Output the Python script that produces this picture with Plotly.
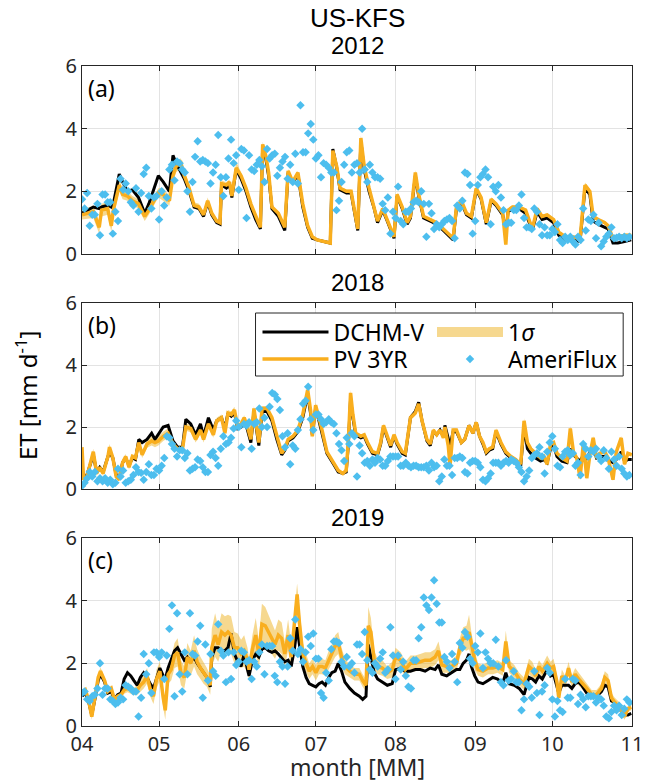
import pandas as pd
import plotly.graph_objects as go

# ---------------- data ----------------
YEARS = [2012, 2018, 2019]
PANEL_LABELS = ["(a)", "(b)", "(c)"]
SITE = "US-KFS"

# Panel (a) 2012 : model lines, key points (days since Apr 1)
A_day = [0, 4.4, 6.7, 7.6, 10, 11.4, 12.2, 14.5, 15.8, 17.7,
         19.6, 22, 24.4, 26, 29.7, 31.6, 34, 35.4, 36.6, 38.5,
         39.8, 41.7, 43.6, 45.5, 47.3, 48.9, 50.5, 52.4, 53.7, 54.3,
         56.2, 57.4, 58.3, 60, 61.9, 63.8, 65.7, 67.6, 69.4, 70.3,
         71.6, 72.6, 73.9, 76.4, 78.9, 80.2, 82, 84, 85.9, 87.8,
         89.6, 91.5, 94, 96.6, 97.6, 99.1, 100.4, 102.9, 104.7, 106,
         107.3, 108.5, 109.8, 111.7, 113.7, 115, 117, 118.8, 121.4, 122.6,
         124.6, 126.5, 127.8, 129.7, 131, 132.9, 135.5, 138, 140.6, 144.4,
         145.7, 147.6, 149.6, 151.5, 153.4, 155.3, 157.3, 159.2, 161.1, 163.7,
         164.9, 165.8, 167.5, 170, 172.6, 175.2, 177.1, 179, 181, 183.5,
         185.5, 188, 190.6, 193.8, 195.7, 197.6, 198.9, 200.8, 203.4, 204.7,
         206.6, 208.5, 211.1, 213.7]
A_pv = [1.25, 1.35, 0.85, 1.4, 1.45, 0.9, 1.4, 2.2, 1.9, 1.85,
        1.7, 1.6, 1.2, 1.4, 1.95, 1.9, 1.7, 2.5, 2.8, 2.9,
        2.5, 2.1, 1.55, 1.5, 1.25, 1.7, 1.3, 1.05, 1.0, 2.25,
        2.2, 2.3, 1.85, 2.75, 2.5, 2.1, 1.6, 1.2, 0.85, 3.5,
        3.1, 2.6, 1.5, 1.3, 0.85, 2.65, 2.3, 2.6, 1.6, 0.9,
        0.55, 0.45, 0.4, 0.35, 3.3, 2.8, 2.1, 2.0, 2.0, 1.4,
        0.8, 3.7, 2.8, 2.1, 1.5, 1.05, 1.45, 1.1, 0.55, 1.9,
        1.5, 1.0, 1.2, 2.6, 1.9, 1.2, 1.1, 1.0, 0.8, 0.5,
        1.5, 1.7, 1.3, 1.2, 2.1, 1.8, 1.0, 1.75, 1.6, 1.3,
        0.3, 1.4, 1.5, 1.5, 1.4, 0.8, 1.45, 1.2, 1.25, 1.1,
        0.7, 0.55, 0.55, 0.5, 2.2, 2.0, 1.2, 1.1, 1.0, 0.9,
        0.5, 0.55, 0.6, 0.6]
A_dchm = [1.3, 1.5, 1.45, 1.5, 1.55, 1.5, 1.6, 2.55, 2.3, 2.0,
          2.05, 1.8, 1.3, 1.6, 2.5, 2.3, 2.0, 3.15, 2.9, 2.6,
          2.4, 2.0, 1.5, 1.45, 1.2, 1.65, 1.25, 1.0, 0.95, 2.2,
          2.1, 2.2, 1.8, 2.7, 2.4, 2.0, 1.5, 1.1, 0.8, 3.45,
          3.0, 2.5, 1.45, 1.2, 0.75, 2.6, 2.25, 2.55, 1.5, 0.85,
          0.5, 0.45, 0.4, 0.35, 3.35, 2.75, 2.05, 1.95, 1.95, 1.35,
          0.75, 3.6, 2.7, 2.0, 1.45, 1.0, 1.4, 1.05, 0.5, 1.85,
          1.45, 0.95, 1.15, 2.5, 1.85, 1.15, 1.05, 0.95, 0.75, 0.45,
          1.45, 1.65, 1.25, 1.15, 2.05, 1.75, 0.95, 1.7, 1.55, 1.25,
          0.7, 1.35, 1.45, 1.45, 1.3, 0.75, 1.35, 1.1, 1.15, 1.0,
          0.6, 0.45, 0.45, 0.4, 2.1, 1.9, 1.05, 0.95, 0.85, 0.8,
          0.35, 0.35, 0.4, 0.45]
A_sig = [0.15, 0.2, 0.2, 0.2, 0.2, 0.2, 0.2, 0.2, 0.15, 0.15,
         0.15, 0.15, 0.15, 0.15, 0.15, 0.2, 0.15, 0.2, 0.2, 0.15,
         0.15, 0.15, 0.1, 0.1, 0.1, 0.1, 0.08, 0.08, 0.08, 0.1,
         0.08, 0.08, 0.08, 0.2, 0.1, 0.08, 0.06, 0.06, 0.06, 0.08,
         0.08, 0.06, 0.06, 0.06, 0.06, 0.06, 0.06, 0.06, 0.06, 0.06,
         0.05, 0.05, 0.05, 0.05, 0.08, 0.06, 0.06, 0.06, 0.06, 0.06,
         0.05, 0.08, 0.06, 0.06, 0.06, 0.05, 0.05, 0.05, 0.05, 0.06,
         0.06, 0.05, 0.05, 0.08, 0.06, 0.05, 0.05, 0.05, 0.05, 0.05,
         0.06, 0.06, 0.05, 0.05, 0.08, 0.06, 0.05, 0.06, 0.06, 0.05,
         0.05, 0.05, 0.05, 0.05, 0.05, 0.05, 0.05, 0.05, 0.05, 0.05,
         0.05, 0.05, 0.05, 0.05, 0.08, 0.08, 0.06, 0.06, 0.06, 0.05,
         0.05, 0.05, 0.05, 0.05]
# AmeriFlux daily ET 2012, Apr 1 .. Oct 31
A_flux = [1.75, 1.45, 1.95, 0.9, 1.25, 1.25, 1.6, 0.6, 1.9, 1.9,
          1.65, 1.65, 0.65, 1.35, 1.05, 2.4, 2.05, 2.25, 2.0, 1.65,
          1.55, 2.1, 1.35, 1.95, 2.55, 2.75, 1.85, 1.45, 1.8, 1.85,
          1.1, 2.0, 1.55, 1.8, 2.7, 2.85, 2.35, 2.95, 2.9, 2.7,
          2.6, 2.0, 1.35, 2.3, 3.1, 3.6, 2.95, 3.0, 2.95, 2.9,
          2.25, 2.6, 2.85, 3.8, 2.45, 1.85, 2.45, 3.05, 3.65, 2.9,
          3.15, 2.05, 3.35, 3.3, 1.15, 3.15, 2.7, 2.65, 2.85, 3.0,
          2.8, 2.3, 3.35, 3.05, 3.15, 3.2, 2.5, 2.75, 2.95, 3.1,
          2.4, 2.85, 2.3, 3.2, 2.25, 4.75, 3.25, 3.25, 3.85, 4.15,
          3.65, 3.05, 3.15, 2.45, 2.9, 2.85, 2.75, 2.6, 2.6, 1.4,
          1.7, 2.3, 2.85, 3.25, 3.3, 2.6, 2.85, 2.9, 2.6, 4.0,
          2.7, 2.3, 2.85, 2.6, 2.45, 2.45, 2.4, 1.6, 1.4, 1.8,
          0.65, 1.35, 1.15, 2.15, 1.05, 0.95, 1.35, 1.35, 1.45, 1.65,
          1.7, 1.65, 2.0, 1.6, 0.55, 1.6, 1.3, 0.8, 0.95, 0.85,
          0.95, 1.05, 1.1, 1.15, 1.05, 0.5, 1.55, 1.45, 1.7, 2.6,
          2.55, 2.2, 0.65, 1.05, 2.2, 2.45, 2.55, 2.7, 2.45, 0.95,
          2.15, 2.0, 2.2, 1.8, 1.4, 0.95, 1.0, 1.0, 1.4, 1.4,
          1.55, 1.9, 1.15, 0.85, 0.85, 0.8, 1.45, 1.35, 0.95, 0.6,
          0.85, 0.6, 0.6, 0.8, 0.7, 0.95, 0.45, 0.35, 0.55, 0.45,
          0.55, 0.4, 0.3, 0.55, 0.45, 1.45, 0.75, 1.1, 1.05, 1.25,
          0.5, 1.0, 0.25, 0.4, 0.55, 0.65, 0.85, 0.5, 0.52, 0.55,
          0.5, 0.55, 0.5, 0.55]

# Panel (b) 2018
B_day = [0, 0.6, 1.9, 3.8, 4.4, 5.7, 6.9, 8.2, 10.1, 10.7,
         12, 13.3, 14.5, 15.8, 17, 18.3, 19.6, 20.8, 22.1, 23.4,
         25.3, 27.1, 28.4, 29.7, 31.6, 33.5, 35.4, 37.2, 39.1, 40.4,
         42.3, 44.2, 46.1, 47.3, 49.2, 51.1, 52.4, 54.3, 55.6, 56.8,
         58.1, 59.3, 60.6, 61.9, 63.1, 64.4, 65.7, 66.9, 68.8, 70.1,
         72, 73.9, 75.8, 77.7, 78.9, 80.2, 82.1, 84, 85.9, 87.8,
         89, 89.6, 90.9, 92.2, 93.4, 95.3, 97.9, 99.7, 101.5, 102.8,
         103.6, 104.5, 105.4, 106.5, 108.5, 109.8, 111.1, 113, 115, 116.2,
         117.3, 118.8, 120.1, 121.4, 122.6, 124.6, 125.8, 127.8, 129.7, 131,
         132.3, 134.2, 135.5, 136.7, 138, 139.3, 140.6, 141.2, 142.5, 143.2,
         144.4, 145.7, 147.6, 148.9, 150.6, 152.1, 153.4, 154.7, 156, 157.3,
         158.5, 159.8, 161.1, 163, 164.9, 166.9, 168.8, 170.7, 172, 173.3,
         174.6, 176.5, 178.4, 179.7, 181, 182.3, 183.5, 184.8, 186.7, 188.7,
         190, 191.2, 192.5, 193.8, 195.1, 196.4, 197.6, 198.9, 200.2, 201.5,
         203.4, 204.7, 206.6, 207.9, 209.8, 211.1, 212.4, 213.9]
B_pv = [1.35, 0.3, 0.4, 0.95, 1.2, 0.5, 0.7, 0.5, 1.05, 1.35,
        1.0, 0.4, 0.3, 0.85, 1.05, 0.7, 1.05, 1.0, 1.5, 1.1,
        1.45, 1.55, 1.5, 1.55, 1.7, 1.8, 1.45, 1.3, 1.3, 2.0,
        1.95, 1.6, 1.9, 1.6, 2.1, 1.75, 2.2, 2.3, 1.8, 2.45,
        2.4, 2.55, 2.0, 2.1, 2.3, 2.0, 1.6, 2.6, 1.5, 2.6,
        2.6, 2.3, 1.7, 1.15, 1.3, 1.6, 1.7, 1.9, 2.4, 3.2,
        2.5, 1.7, 2.7, 2.3, 1.9, 1.2, 0.85, 0.6, 0.5, 0.6,
        1.5, 3.1, 2.4, 1.8, 1.7, 1.75, 1.5, 1.2, 1.15, 1.5,
        2.05, 1.7, 1.4, 1.75, 1.5, 1.2, 1.15, 2.3, 2.45, 2.75,
        2.2, 1.6, 1.45, 1.9, 1.75, 1.9, 1.65, 2.0, 1.4, 0.75,
        1.9, 1.9, 1.5, 1.6, 2.05, 1.8, 2.15, 1.7, 1.5, 1.2,
        1.3, 1.35, 1.9, 1.5, 1.2, 1.05, 0.95, 0.8, 2.2, 1.5,
        1.3, 1.15, 1.0, 1.05, 0.8, 1.45, 1.5, 1.15, 1.0, 0.9,
        1.95, 1.2, 1.0, 0.35, 1.5, 0.35, 1.1, 1.65, 1.0, 1.15,
        1.2, 1.0, 0.3, 1.2, 1.65, 0.8, 1.15, 1.1]
B_dchm = [0.4, 0.35, 0.45, 0.9, 1.1, 0.55, 0.7, 0.55, 1.05, 1.2,
          1.0, 0.45, 0.35, 0.85, 1.0, 0.75, 1.0, 0.95, 1.6, 1.5,
          1.6, 1.8, 1.6, 1.75, 2.0, 2.05, 1.55, 1.35, 1.35, 2.25,
          2.1, 1.75, 2.1, 1.7, 2.3, 1.9, 2.2, 2.3, 1.95, 2.45,
          2.35, 2.45, 1.95, 2.0, 2.2, 1.9, 1.5, 2.5, 1.4, 2.5,
          2.5, 2.2, 1.6, 1.1, 1.25, 1.55, 1.65, 1.85, 2.3, 3.05,
          2.4, 1.75, 2.6, 2.2, 1.8, 1.15, 0.8, 0.55, 0.5, 0.55,
          1.4, 2.9, 2.3, 1.75, 1.65, 1.7, 1.45, 1.15, 1.1, 1.45,
          2.0, 1.65, 1.35, 1.7, 1.45, 1.15, 1.1, 2.3, 2.5, 2.8,
          2.2, 1.55, 1.4, 1.85, 1.75, 1.9, 1.7, 2.05, 1.6, 1.4,
          1.85, 1.85, 1.5, 1.6, 2.05, 1.8, 2.15, 1.7, 1.45, 1.15,
          1.25, 1.3, 1.85, 1.45, 1.15, 1.0, 0.9, 0.75, 2.0, 1.3,
          1.15, 1.0, 0.9, 0.95, 0.85, 1.3, 1.4, 1.05, 0.9, 0.85,
          1.3, 1.1, 1.0, 0.9, 1.1, 0.95, 1.2, 1.35, 1.0, 1.05,
          1.05, 0.95, 0.85, 0.95, 1.2, 0.9, 0.95, 0.95]
B_sig = [0.1, 0.08, 0.08, 0.1, 0.1, 0.08, 0.08, 0.08, 0.1, 0.1,
         0.08, 0.06, 0.06, 0.08, 0.08, 0.08, 0.08, 0.08, 0.1, 0.1,
         0.12, 0.15, 0.15, 0.15, 0.15, 0.15, 0.12, 0.1, 0.1, 0.12,
         0.12, 0.1, 0.12, 0.1, 0.12, 0.1, 0.1, 0.1, 0.08, 0.1,
         0.1, 0.1, 0.08, 0.08, 0.08, 0.08, 0.06, 0.08, 0.06, 0.08,
         0.08, 0.06, 0.06, 0.05, 0.05, 0.06, 0.06, 0.06, 0.08, 0.1,
         0.08, 0.06, 0.08, 0.06, 0.06, 0.05, 0.05, 0.05, 0.05, 0.05,
         0.06, 0.1, 0.08, 0.06, 0.06, 0.06, 0.05, 0.05, 0.05, 0.05,
         0.06, 0.05, 0.05, 0.05, 0.05, 0.05, 0.05, 0.08, 0.08, 0.08,
         0.06, 0.05, 0.05, 0.06, 0.05, 0.06, 0.05, 0.06, 0.05, 0.05,
         0.06, 0.06, 0.05, 0.05, 0.06, 0.05, 0.06, 0.05, 0.05, 0.05,
         0.05, 0.05, 0.06, 0.05, 0.05, 0.05, 0.05, 0.05, 0.08, 0.06,
         0.05, 0.05, 0.05, 0.05, 0.05, 0.06, 0.06, 0.05, 0.05, 0.05,
         0.08, 0.06, 0.05, 0.05, 0.06, 0.05, 0.05, 0.06, 0.05, 0.05,
         0.05, 0.05, 0.05, 0.05, 0.06, 0.05, 0.05, 0.05]
B_flux = [0.1, 0.2, 0.35, 0.55, 0.4, 0.55, 0.25, 0.35, 0.25, 0.35,
          0.2, 0.3, 0.15, 0.2, 0.65, 0.4, 0.6, 0.2, 0.25, 0.3,
          0.45, 0.7, 0.55, 0.52, 0.3, 0.55, 0.8, 0.45, 0.45, 0.65,
          0.6, 0.75, 1.0, 1.7, 1.65, 1.45, 1.3, 1.05, 1.25, 1.25,
          1.0, 1.15, 0.6, 0.65, 0.7, 0.95, 0.9, 0.7, 0.55, 0.55,
          1.1, 1.2, 1.0, 0.75, 1.3, 1.7, 1.45, 1.5, 1.65, 1.95,
          2.2, 2.0, 1.35, 2.1, 2.05, 2.15, 1.3, 2.1, 2.15, 2.6,
          2.0, 2.3, 2.0, 2.65, 3.1, 3.05, 2.9, 2.55, 1.7, 1.35,
          1.8, 0.8, 1.4, 1.3, 1.9, 2.25, 2.75, 2.85, 3.3, 2.25,
          1.9, 2.4, 2.4, 2.25, 2.1, 2.15, 2.25, 2.15, 2.1, 1.8,
          1.45, 1.25, 0.9, 1.65, 1.45, 1.8, 1.7, 0.4, 1.4, 1.15,
          0.85, 0.9, 0.75, 0.95, 0.85, 1.0, 0.95, 0.75, 0.75, 0.9,
          1.05, 1.05, 1.05, 1.05, 0.75, 0.75, 0.85, 0.75, 0.7, 0.75,
          0.75, 0.7, 0.7, 0.7, 0.75, 0.6, 0.85, 0.7, 0.75, 0.25,
          0.4, 0.95, 0.75, 0.75, 0.45, 1.0, 1.0, 1.05, 1.0, 0.55,
          0.5, 0.85, 0.9, 0.9, 0.85, 0.7, 0.3, 0.25, 0.35, 0.5,
          0.85, 0.85, 0.85, 0.75, 0.85, 0.9, 0.85, 0.95, 0.9, 0.85,
          0.7, 0.55, 0.25, 0.4, 0.6, 1.0, 1.1, 1.15, 1.35, 1.05,
          0.5, 1.2, 1.5, 1.7, 1.3, 0.75, 0.7, 1.05, 1.2, 1.25,
          1.1, 1.15, 0.75, 0.85, 0.45, 1.45, 1.3, 1.05, 1.25, 1.2,
          1.3, 1.05, 0.9, 1.25, 1.0, 0.65, 1.2, 0.95, 0.75, 1.05,
          0.65, 0.5, 0.4, 0.45]

# Panel (c) 2019
C_day = [0, 1.3, 2.5, 3.8, 5, 6.3, 7.2, 8.8, 10, 11.4,
         12.6, 13.9, 15.2, 16.4, 17.7, 19, 20.2, 21.5, 22.7, 24,
         25.3, 26.5, 27.8, 29, 30.3, 31.6, 32.4, 33.5, 34.7, 36,
         37.2, 38.5, 39.8, 41, 42.3, 43.6, 44.8, 46.1, 47.3, 48.6,
         49.9, 50.5, 51.8, 53, 54.3, 55.6, 56.8, 58, 59.3, 60.6,
         61.9, 63.1, 64.4, 65, 66.3, 67.6, 68.8, 70, 71.3, 72.6,
         73.9, 75.1, 76.4, 77.7, 78.9, 80.2, 81.4, 82.7, 83.7, 84.6,
         85.9, 87.2, 88.4, 89.7, 91, 92.2, 93.4, 94.7, 96, 97.2,
         98.5, 99.7, 101, 102.3, 104.2, 106, 107.9, 109.2, 110.5, 111.4,
         112.4, 113.7, 115, 116.9, 118.8, 120.7, 122, 124, 125.8, 127.8,
         129.7, 131.6, 133.5, 135.5, 137.4, 138.7, 140, 141.9, 143.8, 145.7,
         147, 148.3, 149.6, 150.6, 151.5, 152.8, 154.1, 156, 158, 159.8,
         161.7, 163.7, 164.9, 166.2, 168.2, 170.1, 172, 173.9, 175.2, 176.5,
         177.8, 179.1, 181, 182.3, 183.5, 184.8, 185.5, 186.7, 188, 189.3,
         190.6, 191.9, 193.2, 194.4, 196.4, 198.3, 200.2, 202.1, 203.4, 204.7,
         206, 207.3, 209.2, 211.1, 212.4, 213.7]
C_pv = [1.05, 1.15, 0.85, 0.3, 0.9, 1.55, 1.75, 1.45, 1.1, 1.2,
        0.85, 0.95, 1.0, 1.15, 1.2, 1.15, 1.1, 1.15, 1.3, 1.4,
        1.6, 1.2, 0.95, 1.5, 1.75, 0.9, 0.5, 1.65, 1.8, 2.25,
        2.35, 1.7, 1.55, 2.2, 2.0, 2.4, 2.05, 1.85, 1.7, 1.55,
        1.3, 2.5, 2.9, 2.6, 3.0, 2.9, 3.0, 2.9, 2.5, 2.5,
        2.3, 2.4, 2.1, 1.8, 2.45, 2.9, 2.3, 3.25, 3.2, 3.0,
        2.8, 2.6, 2.9, 2.8, 2.3, 2.9, 2.2, 3.3, 4.2, 3.3,
        2.3, 2.0, 1.75, 1.9, 1.7, 1.9, 1.9, 1.85, 2.1, 2.3,
        2.55, 2.65, 2.2, 1.9, 1.75, 1.65, 1.65, 1.45, 1.3, 3.2,
        3.0, 2.1, 1.9, 1.85, 1.7, 1.8, 2.2, 2.1, 1.8, 2.0,
        2.0, 2.05, 2.1, 2.1, 2.2, 2.4, 1.95, 1.9, 1.9, 2.0,
        2.5, 2.8, 2.8, 3.0, 2.6, 2.1, 1.8, 1.75, 1.85, 1.85,
        1.9, 1.8, 2.7, 1.9, 1.75, 1.5, 1.35, 1.9, 1.8, 1.6,
        1.9, 1.75, 2.0, 1.85, 1.9, 1.4, 0.9, 1.6, 1.4, 1.85,
        1.4, 1.65, 1.5, 1.4, 1.2, 1.0, 1.0, 1.2, 1.55, 1.45,
        0.9, 0.75, 0.6, 0.3, 0.55, 0.6]
C_dchm = [0.95, 1.05, 0.8, 0.35, 0.85, 1.45, 1.65, 1.4, 1.05, 1.1,
          0.85, 1.0, 1.05, 1.5, 1.7, 1.6, 1.45, 1.3, 1.55, 1.7,
          1.55, 1.35, 1.2, 1.5, 1.85, 1.6, 1.5, 1.85, 2.1, 2.4,
          2.5, 2.3, 2.1, 2.2, 2.05, 2.2, 2.0, 1.85, 1.7, 1.55,
          1.25, 2.2, 2.5, 2.5, 2.4, 2.4, 2.5, 2.95, 2.3, 2.05,
          1.9, 2.3, 1.8, 1.6, 2.1, 2.3, 2.2, 2.45, 2.5, 2.4,
          2.35, 2.4, 2.3, 2.15, 2.05, 2.1, 1.9, 2.5, 3.15, 2.6,
          1.9, 1.55, 1.35, 1.3, 1.25, 1.35, 1.4, 1.3, 1.55, 1.7,
          1.75, 2.0, 1.75, 1.4, 1.2, 1.05, 0.95, 0.85, 0.95, 2.6,
          2.25, 1.7, 1.5, 1.4, 1.3, 1.35, 1.8, 1.85, 1.75, 1.75,
          1.8, 1.8, 1.75, 1.85, 1.8, 1.95, 1.65, 1.6, 1.7, 1.8,
          1.8, 2.0, 2.1, 2.3, 1.9, 1.6, 1.4, 1.35, 1.45, 1.55,
          1.5, 1.35, 1.7, 1.35, 1.3, 1.2, 1.0, 1.55, 1.5, 1.4,
          1.6, 1.5, 1.8, 1.6, 1.65, 1.3, 1.05, 1.3, 1.3, 1.3,
          1.2, 1.35, 1.4, 1.3, 1.05, 0.95, 0.95, 1.1, 1.3, 1.25,
          0.8, 0.75, 0.55, 0.35, 0.35, 0.4]
C_sig = [0.08, 0.08, 0.1, 0.1, 0.1, 0.12, 0.12, 0.1, 0.1, 0.1,
         0.1, 0.1, 0.12, 0.12, 0.12, 0.12, 0.12, 0.15, 0.2, 0.2,
         0.25, 0.25, 0.25, 0.3, 0.3, 0.3, 0.3, 0.3, 0.35, 0.4,
         0.45, 0.4, 0.35, 0.45, 0.4, 0.5, 0.4, 0.35, 0.35, 0.3,
         0.3, 0.6, 0.7, 0.55, 0.6, 0.6, 0.55, 0.6, 0.5, 0.45,
         0.45, 0.5, 0.4, 0.35, 0.45, 0.55, 0.45, 0.65, 0.6, 0.55,
         0.5, 0.45, 0.5, 0.5, 0.4, 0.5, 0.4, 0.55, 0.35, 0.45,
         0.35, 0.3, 0.25, 0.25, 0.25, 0.25, 0.25, 0.25, 0.3, 0.3,
         0.35, 0.35, 0.3, 0.25, 0.2, 0.2, 0.2, 0.2, 0.2, 0.6,
         0.45, 0.3, 0.25, 0.25, 0.2, 0.25, 0.3, 0.25, 0.25, 0.25,
         0.25, 0.25, 0.25, 0.25, 0.25, 0.3, 0.25, 0.2, 0.2, 0.25,
         0.3, 0.35, 0.4, 0.55, 0.4, 0.3, 0.2, 0.2, 0.2, 0.2,
         0.2, 0.2, 0.35, 0.2, 0.2, 0.2, 0.2, 0.25, 0.25, 0.2,
         0.2, 0.2, 0.25, 0.2, 0.25, 0.2, 0.15, 0.2, 0.2, 0.2,
         0.2, 0.2, 0.2, 0.2, 0.15, 0.15, 0.15, 0.15, 0.2, 0.2,
         0.15, 0.15, 0.15, 0.1, 0.1, 0.1]
C_flux = [1.05, 1.1, 0.85, 0.8, 0.95, 1.0, 1.2, 2.0, 1.0, 1.2,
          1.2, 0.85, 0.8, 0.7, 0.75, 0.9, 0.85, 1.3, 1.25, 1.2,
          1.1, 1.1, 0.3, 0.9, 2.3, 1.65, 2.0, 1.05, 2.35, 2.35,
          2.2, 2.35, 1.5, 2.25, 3.1, 3.85, 0.95, 3.6, 1.65, 1.1,
          2.35, 1.65, 3.6, 2.3, 2.25, 2.7, 3.2, 0.9, 2.6, 1.45,
          2.3, 1.75, 1.6, 3.25, 2.4, 2.25, 1.4, 2.35, 1.5, 2.35,
          1.95, 2.05, 2.4, 2.35, 2.05, 2.1, 1.5, 2.05, 1.9, 2.35,
          2.6, 1.65, 2.55, 2.55, 2.55, 1.6, 1.4, 2.05, 1.9, 1.35,
          1.9, 2.8, 2.4, 3.4, 2.3, 2.45, 2.05, 2.35, 2.85, 2.55,
          2.95, 2.15, 2.15, 1.05, 0.9, 1.7, 1.45, 2.45, 2.7, 2.7,
          2.65, 2.05, 1.9, 2.2, 1.9, 2.0, 1.7, 2.6, 2.6, 2.3,
          3.0, 2.1, 1.8, 1.7, 2.0, 1.9, 2.15, 2.35, 1.7, 1.8,
          3.15, 2.25, 1.5, 2.25, 1.8, 2.05, 1.6, 1.25, 1.2, 2.1,
          2.1, 2.8, 3.15, 4.1, 3.85, 3.7, 4.1, 4.65, 3.9, 3.3,
          3.3, 2.2, 2.05, 1.85, 2.3, 2.05, 1.4, 2.65, 2.5, 3.0,
          2.85, 2.15, 2.0, 2.55, 2.35, 2.95, 1.85, 2.35, 2.15, 2.0,
          2.0, 2.75, 1.9, 1.4, 1.3, 2.1, 1.45, 1.5, 1.75, 1.4,
          1.4, 0.5, 0.85, 1.35, 1.25, 0.9, 1.75, 1.05, 0.35, 1.1,
          1.3, 1.85, 1.7, 0.85, 0.3, 0.8, 0.5, 0.45, 1.5, 0.9,
          0.9, 1.5, 1.45, 0.7, 1.0, 0.85, 0.6, 0.95, 0.95, 0.95,
          0.75, 0.9, 0.85, 0.65, 0.3, 0.25, 0.45, 0.65, 0.5, 0.65,
          0.35, 0.55, 0.85, 0.75]

PANELS = [
    (A_day, A_pv, A_dchm, A_sig, A_flux),
    (B_day, B_pv, B_dchm, B_sig, B_flux),
    (C_day, C_pv, C_dchm, C_sig, C_flux),
]

# ---------------- style ----------------
W, H = 654, 782
ML, MR, MT, MB = 82, 11, 66, 56
PW = W - ML - MR
PH = H - MT - MB
PANEL_PX = [(66, 254), (303, 489), (538, 726)]  # top, bottom pixel of each panel

BLACK = "#000000"
ORANGE = "#F9AE1E"
BAND = "rgba(237,177,32,0.5)"
BAND_LEG = "#F6D88F"
BLUE = "#4DBEEE"
AXC = "#262626"
GRID = "#e3e3e3"
FONT = "Noto Sans"
TFONT = "Liberation Sans"


def py(p):
    return (H - MB - p) / PH


def px(p):
    return (p - ML) / PW


fig = go.Figure()

for i, (year, (days, pv, dchm, sig, flux)) in enumerate(zip(YEARS, PANELS)):
    base = pd.Timestamp(f"{year}-04-01")
    t_line = base + pd.to_timedelta(days, unit="D")
    t_flux = pd.date_range(base, periods=len(flux), freq="D")
    upper = [v + s for v, s in zip(pv, sig)]
    lower = [v - s for v, s in zip(pv, sig)]
    xa = "x" if i == 0 else f"x{i+1}"
    ya = "y" if i == 0 else f"y{i+1}"
    show = i == 1
    fig.add_trace(go.Scatter(
        x=list(t_line) + list(t_line[::-1]), y=upper + lower[::-1],
        fill="toself", fillcolor=BAND, line=dict(width=0), mode="lines",
        name="1<i>σ</i>", showlegend=False,
        hoverinfo="skip", xaxis=xa, yaxis=ya))
    fig.add_trace(go.Scatter(
        x=t_line, y=dchm, mode="lines", line=dict(color=BLACK, width=3),
        name="DCHM-V", showlegend=show, legend="legend",
        xaxis=xa, yaxis=ya))
    fig.add_trace(go.Scatter(
        x=t_line, y=pv, mode="lines", line=dict(color=ORANGE, width=3.5),
        name="PV 3YR", showlegend=show, legend="legend2",
        xaxis=xa, yaxis=ya))
    fig.add_trace(go.Scatter(
        x=t_flux, y=flux, mode="markers",
        marker=dict(symbol="diamond", size=6.5, color=BLUE),
        name="AmeriFlux", showlegend=show, legend="legend4",
        xaxis=xa, yaxis=ya))

    top, bot = PANEL_PX[i]
    axis_common = dict(showline=True, linecolor=AXC, linewidth=1, mirror="allticks",
                       ticks="inside", ticklen=5, tickcolor=AXC,
                       showgrid=True, gridcolor=GRID, gridwidth=1, zeroline=False,
                       tickfont=dict(family=FONT, size=20, color=AXC))
    xkey = "xaxis" if i == 0 else f"xaxis{i+1}"
    ykey = "yaxis" if i == 0 else f"yaxis{i+1}"
    fig.update_layout({
        xkey: dict(axis_common, type="date", anchor=ya, domain=[0, 1],
                   range=[f"{year}-04-01", f"{year}-11-01"],
                   tick0=f"{year}-04-01", dtick="M1", tickformat="%m",
                   ticklabeloverflow="allow",
                   showticklabels=(i == 2)),
        ykey: dict(axis_common, anchor=xa, domain=[py(bot), py(top)],
                   range=[0, 6], dtick=2, tick0=0),
    })
    fig.add_annotation(text=str(year), xref="paper", yref="paper",
                       x=0.5, y=py(top - 21), xanchor="center", yanchor="middle",
                       showarrow=False, font=dict(family=TFONT, size=24, color="#000"))
    fig.add_annotation(text=PANEL_LABELS[i], xref="paper", yref="paper",
                       x=px(86), y=py(top + 22), xanchor="left", yanchor="middle",
                       showarrow=False, font=dict(family=FONT, size=23, color="#000"))

# legend proxy for the 1-sigma band (thick patch like the reference key)
fig.add_trace(go.Scatter(
    x=[None], y=[None], mode="lines", line=dict(color=BAND_LEG, width=20),
    name="1<i>σ</i>", showlegend=True, legend="legend3",
    xaxis="x2", yaxis="y2"))

fig.add_annotation(text=SITE, xref="paper", yref="paper", x=0.5, y=py(18),
                   xanchor="center", yanchor="middle", showarrow=False,
                   font=dict(family=TFONT, size=26, color="#000"))
fig.add_annotation(text="ET [mm d<sup>-1</sup>]", xref="paper", yref="paper",
                   x=px(25), y=py(395), xanchor="center", yanchor="middle",
                   textangle=-90, showarrow=False,
                   font=dict(family=FONT, size=24, color="#000"))
fig.add_annotation(text="month [MM]", xref="paper", yref="paper",
                   x=0.5, y=py(767), xanchor="center", yanchor="middle",
                   showarrow=False, font=dict(family=FONT, size=23, color=AXC))

# legend frame
fig.add_shape(type="rect", xref="paper", yref="paper",
              x0=px(259), x1=px(634), y0=py(376), y1=py(313),
              line=dict(color=AXC, width=1), fillcolor="white", layer="above")

leg_common = dict(xanchor="left", yanchor="middle", bgcolor="rgba(0,0,0,0)",
                  borderwidth=0, itemwidth=66, tracegroupgap=0,
                  font=dict(family=FONT, size=23, color="#000"), orientation="v")
ROW1, ROW2 = 332, 359
COL1, COL2 = 261, 439
fig.update_layout(
    width=W, height=H,
    margin=dict(l=ML, r=MR, t=MT, b=MB),
    paper_bgcolor="white", plot_bgcolor="white",
    font=dict(family=FONT, color="#000"),
    legend=dict(leg_common, x=px(COL1), y=py(ROW1)),
    legend2=dict(leg_common, x=px(COL1), y=py(ROW2)),
    legend3=dict(leg_common, x=px(COL2), y=py(ROW1)),
    legend4=dict(leg_common, x=px(COL2), y=py(ROW2)),
)

fig.write_html("out.html")
